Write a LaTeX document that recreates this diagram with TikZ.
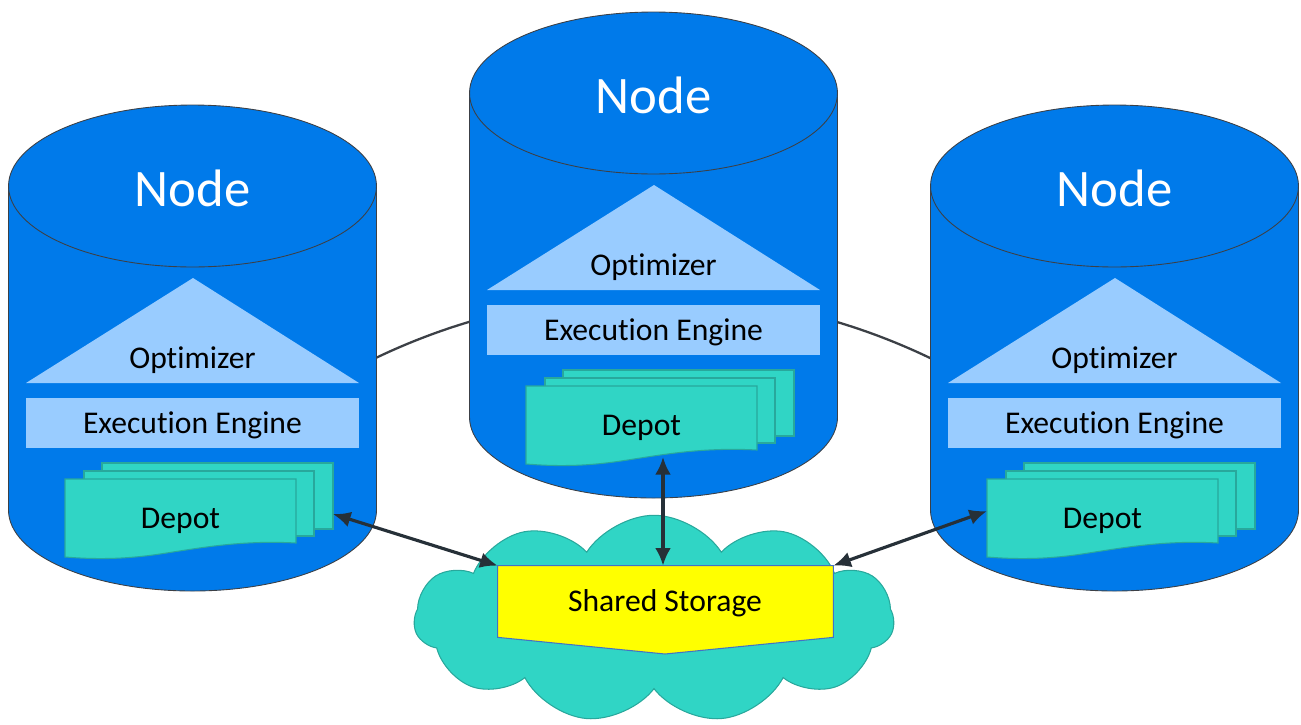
\documentclass[tikz,border=0pt]{standalone}
\usepackage{fontspec}
\setmainfont{Carlito}[RawFeature={-liga;-clig;-calt}]
\usetikzlibrary{shapes.geometric,shapes.symbols,arrows.meta}

\definecolor{nodeblue}{RGB}{0,122,234}
\definecolor{layerblue}{RGB}{153,204,255}
\definecolor{depotteal}{RGB}{48,213,197}
\definecolor{depotedge}{RGB}{40,168,156}
\definecolor{outline}{RGB}{60,64,70}
\definecolor{arrowdark}{RGB}{38,48,56}
\definecolor{storeyellow}{RGB}{255,255,0}
\definecolor{storeedge}{RGB}{68,114,196}

\tikzset{
  cylbody/.style={fill=nodeblue, draw=outline, line width=0.5pt},
  cyltop/.style={ellipse, fill=nodeblue, draw=outline, line width=0.5pt,
    minimum width=7.36cm, minimum height=3.24cm, inner sep=0pt},
  nodetitle/.style={anchor=base, text=white, font=\fontsize{30}{36}\selectfont, inner sep=0pt},
  layer/.style={fill=layerblue},
  sheet/.style={fill=depotteal, draw=depotedge, line width=0.6pt},
  txt/.style={anchor=base, text=black, font=\fontsize{18}{22}\selectfont, inner sep=0pt},
  ring/.style={draw=outline, line width=1.3pt},
  link/.style={draw=arrowdark, line width=1.8pt, {Latex[length=10pt,width=9pt]}-{Latex[length=10pt,width=9pt]}},
  cloudshape/.style={cloud, cloud puffs=11, cloud puff arc=115, aspect=2.3,
    minimum width=9.6cm, minimum height=4.15cm, inner sep=0pt,
    fill=depotteal, draw=depotedge, line width=0.6pt},
  storebox/.style={rectangle, minimum width=6.7cm, minimum height=1.42cm, inner sep=0pt},
  storeshape/.style={fill=storeyellow, draw=storeedge, line width=0.6pt},
  pics/dbnode/.style={code={
    % cylinder body with rounded bottom
    \path[cylbody] (8.5,186) -- (8.5,510)
      .. controls (8.5,554.7) and (90.9,591) .. (192.5,591)
      .. controls (294.1,591) and (376.5,554.7) .. (376.5,510)
      -- (376.5,186) -- cycle;
    \node[cyltop] (-top) at (192.5,186) {};
    \node[nodetitle] (-title) at (192.5,206) {Node};
    % optimizer triangle
    \path[layer] (193,278) -- (359,383) -- (26,383) -- cycle;
    \node[txt] (-opt) at (192.5,368) {Optimizer};
    % execution engine band
    \path[layer] (26,398) rectangle (359,448);
    \node[txt] (-engine) at (192.5,433) {Execution Engine};
    % stacked depot sheets
    \path[sheet] (102,463) rectangle (333,529);
    \path[sheet] (84,471) rectangle (314,536);
    \path[sheet] (65,479) -- (296,479) -- (296,543)
      .. controls (240,540) and (200,548) .. (160,554)
      .. controls (120,560) and (90,559) .. (65,557) -- cycle;
    \node[txt] (-depot) at (180.5,528) {Depot};
    \coordinate (-east) at (333,514);
    \coordinate (-west) at (65,511);
    \coordinate (-south) at (202,550);
  }}
}

\begin{document}
\begin{tikzpicture}[x=0.02cm, y=-0.02cm]
  \useasboundingbox (0,0) rectangle (1301,724);

  % ring joining the nodes, behind the cylinders
  \draw[ring] (285.3,410.9) arc[start angle=125, end angle=55, radius=12.82cm];

  % the three database nodes
  \pic (L) at (0,0) {dbnode};
  \pic (M) at (461,-93) {dbnode};
  \pic (R) at (922,0) {dbnode};

  % shared storage in the cloud
  \node[cloudshape] (cloud) at (654,619) {};
  \node[storebox] (store) at (665.5,601.5) {};
  \path[storeshape] (store.north west) -- (store.north east) -- (store.south east)
    -- (665,654) -- (store.south west) -- cycle;
  \node[txt] (storelabel) at (665,611) {Shared Storage};

  % depot <-> shared storage links
  \draw[link] (L-east) -- (store.north west);
  \draw[link] (M-south) -- (M-south |- store.north);
  \draw[link] (store.north east) -- (R-west);
\end{tikzpicture}
\end{document}
